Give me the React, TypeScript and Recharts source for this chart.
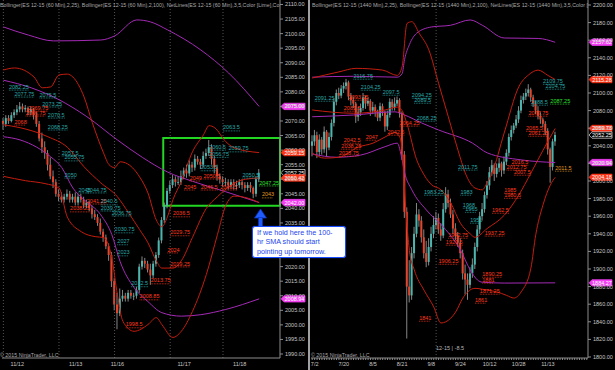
import React from "react";
import {
  Bar,
  ComposedChart,
  Line,
  ReferenceArea,
  ReferenceDot,
  ReferenceLine,
  XAxis,
  YAxis,
} from "recharts";

const FONT = "'Liberation Sans', Arial, sans-serif";
const AXIS = "#8c8c8c";
const TICK_TEXT = "#c8c8c8";
const UP = "#4bb5ae";
const DOWN = "#e2452c";
const WICK = "#a8a8a8";
const RED = "#c41d0f";
const PURPLE = "#a42ab6";
const LIME = "#22d622";

const NOTE_COLORS: Record<string, string> = {
  c: "#2aa8a8",
  r: "#ff3a1e",
  g: "#2ee02e",
  o: "#e39b1f",
};

type Pt = [number, number];
type Note = [number, number, string, string];
type Tag = [number, string];

// ---- left panel: ES 12-15, 60 min ----
const leftOpen = [
  2070, 2069, 2071, 2070, 2072, 2073, 2074, 2075, 2074, 2074.5,
  2073, 2074, 2072, 2069, 2064, 2061, 2059, 2055, 2051, 2049,
  2045, 2044, 2043, 2044, 2045, 2043, 2044, 2042, 2044, 2043,
  2041, 2042, 2040, 2038, 2037, 2035, 2032, 2030, 2027, 2024,
  2015, 2007, 2004, 2009, 2010, 2009, 2011, 2010, 2010, 2012,
  2020, 2022, 2021, 2019, 2017, 2021, 2024, 2029, 2036, 2041,
  2046, 2048, 2050, 2049, 2049, 2051, 2053, 2052, 2055, 2054,
  2057, 2056, 2055, 2058, 2059, 2061, 2057, 2054, 2051, 2050,
  2049, 2049, 2048, 2049, 2048, 2048, 2049, 2048, 2047, 2048,
  2047, 2045, 2050,
];
const leftHigh = [
  2071, 2072, 2072, 2073, 2074, 2075.5, 2076.5, 2076, 2075.5, 2075,
  2075, 2074.5, 2073, 2070, 2066, 2063, 2060, 2057.5, 2053, 2050,
  2046.5, 2045.5, 2045, 2046.5, 2046, 2045, 2045.5, 2045, 2045, 2044,
  2043, 2042.5, 2041, 2039.5, 2038, 2036.5, 2033, 2031, 2028, 2025,
  2016, 2011, 2012.5, 2012, 2011, 2012, 2012, 2011, 2013, 2021,
  2023.5, 2023, 2022, 2021, 2022, 2025, 2030, 2037, 2042, 2047,
  2049.5, 2051.5, 2051, 2051, 2053, 2054, 2055, 2056.5, 2056, 2058.5,
  2058, 2057, 2059.5, 2060.5, 2063.5, 2062, 2058, 2055, 2052, 2051,
  2050.5, 2050, 2050, 2050, 2049.5, 2050, 2050, 2049, 2049, 2049,
  2047.5, 2051, 2053.5,
];
const leftLow = [
  2067, 2068, 2069, 2069.5, 2071, 2072, 2073, 2073, 2073, 2072,
  2072, 2070.5, 2068, 2063, 2059, 2057, 2053, 2050, 2047, 2044,
  2042.5, 2042, 2042, 2043, 2042, 2042, 2041, 2041, 2042, 2040,
  2040, 2039, 2036.5, 2036, 2034, 2031, 2028.5, 2026, 2022, 2013,
  2005, 1998.5, 2003, 2008, 2008, 2008, 2009, 2008.5, 2009, 2011,
  2019, 2019.5, 2018, 2013.75, 2016, 2020, 2023, 2028, 2035, 2040,
  2045, 2047, 2047.5, 2048, 2048, 2050, 2050.5, 2051, 2052.5, 2053,
  2055, 2053.5, 2054, 2057, 2058, 2055, 2052, 2049.5, 2048.5, 2047.5,
  2047.5, 2046.5, 2047, 2046.5, 2046.5, 2047, 2046.5, 2045.5, 2046, 2045.5,
  2043.5, 2044, 2049,
];
const leftClose = [
  2069, 2071, 2070, 2072, 2073, 2074, 2075, 2074, 2074.5, 2073,
  2074, 2072, 2069, 2064, 2061, 2059, 2055, 2051, 2049, 2045,
  2044, 2043, 2044, 2045, 2043, 2044, 2042, 2044, 2043, 2041,
  2042, 2040, 2038, 2037, 2035, 2032, 2030, 2027, 2024, 2015,
  2007, 2004, 2009, 2010, 2009, 2011, 2010, 2010, 2012, 2020,
  2022, 2021, 2019, 2017, 2021, 2024, 2029, 2036, 2041, 2046,
  2048, 2050, 2049, 2049, 2051, 2053, 2052, 2055, 2054, 2057,
  2056, 2055, 2058, 2059, 2061, 2057, 2054, 2051, 2050, 2049,
  2049, 2048, 2049, 2048, 2048, 2049, 2048, 2047, 2048, 2047,
  2045, 2050, 2052.25,
];

const leftBb100Upper: Pt[] = [
  [0, 2102.3], [9, 2099.5], [18, 2097.5], [35, 2097.8], [40, 2099.2], [48, 2104.7],
  [53, 2104], [59, 2101.3], [71, 2094.4], [81, 2086.5], [92, 2075],
];
const leftBb100Mid: Pt[] = [
  [0, 2084], [10, 2081.4], [20, 2077.3], [30, 2071.5], [41, 2063.5], [50, 2057.5],
  [59, 2052.5], [68, 2049.3], [80, 2045.7], [92, 2042],
];
const leftBb100Lower: Pt[] = [
  [0, 2064.6], [6, 2063.5], [12, 2061], [17, 2057.7], [21, 2054], [25, 2047],
  [29, 2043], [35, 2037.8], [39, 2031], [42, 2021.7], [47, 2012.8], [52, 2008],
  [57, 2004.2], [64, 2003], [71, 2003.5], [80, 2005.3], [92, 2008.94],
];
const leftBb25Upper: Pt[] = [
  [0, 2087.5], [4, 2088.2], [11, 2085.1], [14, 2081.4], [17, 2081.7], [20, 2085.8],
  [23, 2086.1], [25, 2085.1], [29, 2078.3], [32, 2069.4], [36, 2059.1], [38, 2055],
  [40, 2054], [42, 2056], [44, 2055.6], [49, 2050.8], [52, 2045.3], [55, 2036],
  [57, 2033.7], [59, 2037.1], [61, 2043], [64, 2049.2], [68, 2059.4], [72, 2065.3],
  [74, 2068.4], [76, 2067.7], [80, 2062.9], [83, 2060.8], [92, 2059.15],
];
const leftBb25Mid: Pt[] = [
  [0, 2068.7], [6, 2067.7], [16, 2064.6], [23, 2061], [29, 2054.3], [35, 2048.8],
  [41, 2044], [45, 2038.5], [49, 2032.7], [52, 2028.2], [55, 2022], [57, 2019.5],
  [61, 2019.5], [64, 2022], [68, 2030], [73, 2040], [77, 2044], [82, 2048],
  [87, 2050], [92, 2050.42],
];
const leftBb25Lower: Pt[] = [
  [0, 2051], [8, 2049.5], [15, 2048.5], [20, 2047], [23, 2037], [28, 2032],
  [33, 2030.3], [36, 2030], [39, 2023], [41, 2010.4], [43, 2001.2], [47, 1997.8],
  [52, 2000.1], [55, 2002.5], [57, 2000.1], [61, 1995.7], [64, 1997.8], [68, 2004.6],
  [73, 2017.3], [77, 2031], [80, 2041], [83, 2044.2], [88, 2043.5], [92, 2042],
];

const leftPriceTicks = [
  1990, 1995, 2000, 2005, 2010, 2015, 2020, 2025, 2030, 2035, 2040, 2045, 2050,
  2055, 2060, 2065, 2070, 2075, 2080, 2085, 2090, 2095, 2100, 2105, 2110,
];
const leftDayTicks = [5, 26, 41, 65, 85];
const leftDayLabels = ["11/12", "11/13", "11/16", "11/17", "11/18"];
const leftSessionBreaks = [0, 20, 40, 60, 79];

const leftTags: Tag[] = [
  [2075.0, "m"], [2059.15, "r"], [2052.25, "k"], [2050.42, "r"], [2042.0, "m"], [2008.94, "m"],
];

const leftNotes: Note[] = [
  [2, 2081.7, "2082.25", "c"], [4, 2079.3, "2077.75", "c"], [13, 2079, "2075.5", "c"],
  [14, 2075.9, "2073.25", "c"], [9, 2074.5, "2069.75", "r"], [8, 2072.8, "2066.75", "r"],
  [4, 2069.7, "2068", "r"], [16, 2072.1, "2070.5", "c"], [16, 2068, "2068.25", "c"],
  [21, 2059.1, "2057.5", "c"], [22, 2057.4, "2055.75", "c"], [22, 2051.5, "2050", "c"],
  [27, 2046.4, "2045", "c"], [30, 2046.4, "2044.75", "c"], [30, 2042.6, "2041.25", "r"],
  [24, 2039.9, "2038.25", "r"], [35, 2042.3, "2040.5", "c"], [35, 2040.2, "2039.75", "c"],
  [39, 2038.5, "2036.75", "c"], [40, 2032.7, "2030.75", "c"], [41, 2028.6, "2027", "c"],
  [41, 2024.8, "2023", "c"], [46, 2014.2, "2012.5", "c"], [49, 2009.7, "2008.85", "r"],
  [44, 2000.1, "1998.5", "r"], [61, 2038.2, "2036.5", "r"], [60, 2031.7, "2029.75", "r"],
  [59, 2025.8, "2024", "r"], [60, 2021, "2019.25", "r"], [53, 2015.2, "2013.75", "r"],
  [79, 2067.7, "2063.5", "c"], [74, 2061.1, "2060.5", "c"], [81, 2060.5, "2059.75", "c"],
  [74, 2058.6, "2056.75", "c"], [71, 2054, "2053.5", "c"], [86, 2051.5, "2050.5", "c"],
  [72, 2051.2, "2050.5", "r"], [67, 2050.5, "2049", "r"], [65, 2047.4, "2045", "r"],
  [71, 2047.4, "2046.5", "r"], [78, 2047.4, "2045.5", "r"], [92, 2048.8, "2047.25", "g"],
  [93, 2044.7, "2043", "o"],
];

// ---- right panel: ES 12-15, daily ----
const rightOpen = [
  2040, 2045, 2052, 2033, 2047, 2036, 2056, 2038, 2050, 2066,
  2090, 2100, 2097, 2105, 2108, 2112, 2096, 2092, 2088, 2073,
  2078, 2083, 2095, 2088, 2091, 2080, 2084, 2078, 2072, 2085,
  2078, 2062, 2075, 2090, 2084, 2088, 2092, 2077, 2030, 1965,
  1880, 1870, 1918, 1940, 1962, 1955, 1936, 1918, 1908, 1925,
  1940, 1950, 1958, 1945, 1938, 1968, 1985, 1975, 1962, 1946,
  1938, 1930, 1918, 1895, 1888, 1882, 1895, 1905, 1925, 1945,
  1960, 1968, 1984, 1995, 2010, 2018, 2008, 2015, 2020, 2012,
  2022, 2032, 2050, 2058, 2063, 2070, 2080, 2092, 2096, 2100,
  2104, 2095, 2088, 2080, 2074, 2070, 2065, 2057, 2036, 2016,
  2045,
];
const rightHigh = [
  2052, 2058, 2056, 2053, 2050, 2062, 2058, 2055, 2070, 2094,
  2104, 2106, 2109, 2112, 2116, 2114, 2100, 2096, 2090, 2084,
  2088, 2100, 2097, 2095, 2093, 2090, 2087, 2081, 2089, 2088,
  2080, 2080, 2094, 2093, 2095, 2096, 2094, 2079, 2034, 1970,
  1910, 1925, 1948, 1975, 1968, 1960, 1945, 1932, 1935, 1948,
  1960, 1965, 1963, 1952, 1975, 1993, 1990, 1980, 1967, 1952,
  1942, 1935, 1922, 1905, 1895, 1902, 1912, 1930, 1950, 1965,
  1975, 1988, 2000, 2016, 2024, 2020, 2020, 2026, 2022, 2028,
  2036, 2054, 2063, 2066, 2075, 2085, 2097, 2100, 2105, 2110,
  2106, 2098, 2091, 2085, 2078, 2072, 2068, 2060, 2038, 2048,
  2056,
];
const rightLow = [
  2028, 2040, 2026, 2028, 2030, 2032, 2028, 2035, 2046, 2062,
  2086, 2093, 2094, 2100, 2104, 2092, 2086, 2083, 2066, 2068,
  2074, 2080, 2082, 2085, 2074, 2076, 2073, 2068, 2068, 2074,
  2056, 2058, 2072, 2080, 2080, 2085, 2072, 2024, 1958, 1821,
  1862, 1865, 1912, 1936, 1948, 1930, 1912, 1902, 1904, 1920,
  1935, 1945, 1940, 1932, 1935, 1964, 1970, 1958, 1940, 1933,
  1925, 1912, 1888, 1871, 1865, 1878, 1890, 1900, 1920, 1940,
  1955, 1964, 1980, 1990, 2006, 2000, 2004, 2010, 2005, 2008,
  2018, 2028, 2046, 2054, 2060, 2066, 2077, 2088, 2092, 2096,
  2090, 2084, 2076, 2070, 2065, 2061, 2052, 2030, 1998, 2012,
  2040,
];
const rightClose = [
  2045, 2052, 2033, 2047, 2036, 2056, 2038, 2050, 2066, 2090,
  2100, 2097, 2105, 2108, 2112, 2096, 2092, 2088, 2073, 2078,
  2083, 2095, 2088, 2091, 2080, 2084, 2078, 2072, 2085, 2078,
  2062, 2075, 2090, 2084, 2088, 2092, 2077, 2030, 1965, 1880,
  1870, 1918, 1940, 1962, 1955, 1936, 1918, 1908, 1925, 1940,
  1950, 1958, 1945, 1938, 1968, 1985, 1975, 1962, 1946, 1938,
  1930, 1918, 1895, 1888, 1882, 1895, 1905, 1925, 1945, 1960,
  1968, 1984, 1995, 2010, 2018, 2008, 2015, 2020, 2012, 2022,
  2032, 2050, 2058, 2063, 2070, 2080, 2092, 2096, 2100, 2104,
  2095, 2088, 2080, 2074, 2070, 2065, 2057, 2036, 2016, 2045,
  2052.25,
];

const rightBb100Upper: Pt[] = [
  [0, 2118], [17, 2119], [35, 2118], [37, 2122], [38, 2138], [40, 2155], [43, 2168],
  [49, 2175], [57, 2177], [65, 2183], [70, 2177], [79, 2162.5], [93, 2162], [100, 2157.62],
];
const rightBb100Mid: Pt[] = [
  [0, 2073], [17, 2075], [34, 2078.6], [38, 2075], [45, 2066], [52, 2058],
  [66, 2043], [72, 2032], [86, 2024], [100, 2020.94],
];
const rightBb100Lower: Pt[] = [
  [0, 2030.7], [10, 2027], [20, 2029.5], [30, 2039], [35, 2043], [37, 2024],
  [38, 2010], [41, 1990], [47, 1967], [54, 1947.7], [61, 1921.6], [65, 1899],
  [68, 1887.5], [70, 1885], [79, 1884], [100, 1884.27],
];
const rightBb25Upper: Pt[] = [
  [0, 2117], [11, 2124], [18, 2128], [29, 2126], [35, 2120], [37, 2130], [39, 2179],
  [41, 2181], [44, 2168], [48, 2149], [52, 2111], [56, 2073], [60, 2035], [63, 2009],
  [67, 1992], [70, 1990], [72, 1998], [74, 2009], [79, 2054.5], [85, 2107],
  [89, 2120.5], [93, 2126], [97, 2120], [100, 2115.28],
];
const rightBb25Mid: Pt[] = [
  [0, 2080.7], [17, 2077], [30, 2080.7], [35, 2084], [37, 2080], [39, 2065],
  [43, 2024], [45, 2012], [49, 1996], [53, 1990], [57, 1975], [61, 1952],
  [65, 1940], [67, 1936], [72, 1946], [79, 1961], [85, 1984], [90, 2009],
  [95, 2035], [100, 2059.73],
];
const rightBb25Lower: Pt[] = [
  [0, 2031.8], [5, 2026], [11, 2027], [19, 2038.6], [25, 2043], [30, 2050],
  [34, 2055], [36, 2050], [37, 2035], [38, 1990], [39, 1950], [40, 1921],
  [42, 1899], [46, 1876], [50, 1857], [53, 1838.6], [55, 1840], [59, 1851],
  [62, 1867], [64, 1874], [67, 1878], [72, 1876], [76, 1874], [80, 1870],
  [83, 1867], [86, 1874], [90, 1901], [92, 1939], [95, 1973], [98, 1995.5],
  [100, 2004.18],
];

const rightPriceTicks = [
  1800, 1820, 1840, 1860, 1880, 1900, 1920, 1940, 1960, 1980, 2000,
  2020, 2040, 2060, 2080, 2100, 2120, 2140, 2160, 2180, 2200,
];
const rightDayTicks = [1, 13, 25, 37, 49, 61, 73, 85, 97];
const rightDayLabels = ["7/2", "7/20", "8/5", "8/21", "9/8", "9/24", "10/12", "10/28", "11/13"];
const rightSessionBreaks = [51];

const rightTags: Tag[] = [
  [2157.62, "m"], [2115.28, "r"], [2059.73, "r"], [2052.25, "k"],
  [2020.94, "m"], [2004.18, "r"], [1884.27, "m"],
];

const rightNotes: Note[] = [
  [17, 2119.3, "2116.75", "c"], [20, 2106.8, "2104.25", "c"], [1, 2094.3, "2091.25", "c"],
  [15, 2095.5, "2093.25", "r"], [13, 2083, "2081.5", "r"], [29, 2101.1, "2097.5", "c"],
  [41, 2097.7, "2094.25", "c"], [42, 2092, "2089.5", "c"], [43, 2071.6, "2068.25", "c"],
  [36, 2066, "2064.25", "r"], [13, 2046.6, "2042.5", "r"], [12, 2039.8, "2038.25", "r"],
  [11, 2031.8, "2028.75", "r"], [22, 2050, "2047", "r"], [31, 2055.7, "2042.5", "r"],
  [95, 2113.6, "2109.75", "c"], [96, 2108, "2104.75", "c"], [90, 2089.8, "2088.5", "c"],
  [98, 2091, "2087.25", "g"], [89, 2077.3, "2077.75", "r"], [88, 2060.2, "2065.5", "r"],
  [89, 2054.5, "2061.25", "r"], [60, 2016, "2011.75", "c"], [82, 2021.6, "2016.5", "r"],
  [80, 2016, "2012.75", "r"], [83, 2010.2, "2007.5", "r"], [100, 2014.8, "2011.5", "o"],
  [46, 1987.5, "1983.25", "c"], [61, 1987.5, "1983", "c"], [62, 1972.7, "1968", "c"],
  [63, 1968, "1965", "c"], [65, 1955.7, "1951", "c"], [79, 1989.8, "1985", "r"],
  [79, 1984, "1980.5", "r"], [74, 1967, "1962.5", "r"], [71, 1941, "1937.25", "r"],
  [56, 1938.6, "1942.75", "r"], [55, 1930.7, "1929.5", "r"], [52, 1909, "1906.25", "r"],
  [70, 1894.3, "1890.25", "r"], [70, 1887.5, "1881", "r"], [69, 1875, "1871.25", "r"],
  [67, 1864.8, "1861", "r"], [44, 1844.3, "1841", "r"],
];

type Band = { key: string; color: string; points: Pt[] };

function buildRows(
  open: number[],
  high: number[],
  low: number[],
  close: number[],
  slots: number,
  bands: Band[],
) {
  const rows: any[] = [];
  for (let i = 0; i < slots; i++) {
    const row: any = { i };
    if (i < close.length) {
      row.open = open[i];
      row.high = high[i];
      row.low = low[i];
      row.close = close[i];
      row.range = [low[i], high[i]];
    }
    rows.push(row);
  }
  bands.forEach((b) => b.points.forEach(([i, v]) => (rows[i][b.key] = v)));
  return rows;
}

function Candle(props: any) {
  const { x, y, width, height, payload } = props;
  if (!payload || payload.high == null || x == null || y == null) return null;
  const top = Math.min(y, y + height);
  const h = Math.abs(height);
  const k = h / (payload.high - payload.low || 1);
  const yo = top + (payload.high - payload.open) * k;
  const yc = top + (payload.high - payload.close) * k;
  const cx = x + width / 2;
  const up = payload.close >= payload.open;
  return (
    <g>
      <line x1={cx} x2={cx} y1={top} y2={top + h} stroke={WICK} strokeWidth={0.8} />
      <rect
        x={x}
        y={Math.min(yo, yc)}
        width={width}
        height={Math.max(Math.abs(yc - yo), 0.8)}
        fill={up ? UP : DOWN}
      />
    </g>
  );
}

function noteShape(text: string, color: string) {
  return (p: any) => (
    <g>
      <text x={p.cx} y={p.cy + 1.8} fontSize={5.5} fontFamily={FONT} fill={color}>
        {text}
      </text>
      <line
        x1={p.cx}
        x2={p.cx + text.length * 2.8}
        y1={p.cy + 3.2}
        y2={p.cy + 3.2}
        stroke={color}
        strokeWidth={0.8}
        strokeDasharray="0.8 0.8"
      />
    </g>
  );
}

function tagLabel(price: number, kind: string, tagWidth: number) {
  const fill = kind === "m" ? "#f23ef2" : kind === "r" ? "#ff3416" : "#000";
  const border = kind === "k" ? "#e8e8e8" : fill;
  return (props: any) => {
    const vb = props.viewBox || {};
    const x = (vb.x ?? 0) + (vb.width ?? 0) + 1;
    const y = vb.y ?? 0;
    return (
      <g>
        <polygon
          points={`${x},${y} ${x + 3},${y - 3.2} ${x + tagWidth},${y - 3.2} ${x + tagWidth},${y + 3.2} ${x + 3},${y + 3.2}`}
          fill={fill}
          stroke={border}
          strokeWidth={0.7}
        />
        <text
          x={x + 3 + (tagWidth - 3) / 2}
          y={y + 2}
          textAnchor="middle"
          fontSize={5.5}
          fontFamily={FONT}
          fill="#fff"
        >
          {price.toFixed(2)}
        </text>
      </g>
    );
  };
}

type PanelProps = {
  width: number;
  slots: number;
  marginLeft: number;
  yWidth: number;
  open: number[];
  high: number[];
  low: number[];
  close: number[];
  bands: Band[];
  yDomain: [number, number];
  yTicks: number[];
  xTicks: number[];
  xLabels: string[];
  minorTicks: boolean;
  breaks: number[];
  notes: Note[];
  tags: Tag[];
  tagWidth: number;
  box?: { x1: number; x2: number; y1: number; y2: number };
};

function Panel(p: PanelProps) {
  const rows = buildRows(p.open, p.high, p.low, p.close, p.slots, p.bands);
  const labelOf = (v: number) => {
    const k = p.xTicks.indexOf(v);
    return k >= 0 ? p.xLabels[k] : "";
  };
  return (
    <ComposedChart
      width={p.width}
      height={370}
      data={rows}
      margin={{ top: 0, right: 0, bottom: 0, left: p.marginLeft }}
      barCategoryGap={0}
    >
      <XAxis
        dataKey="i"
        type="category"
        ticks={p.minorTicks ? rows.map((r) => r.i) : p.xTicks}
        interval={0}
        tickFormatter={labelOf}
        height={12}
        axisLine={{ stroke: AXIS }}
        tickLine={p.minorTicks ? { stroke: AXIS } : false}
        tickSize={p.minorTicks ? 2 : 3}
        tickMargin={p.minorTicks ? 2 : 1}
        tick={{ fill: TICK_TEXT, fontSize: 5.5, fontFamily: FONT }}
      />
      <YAxis
        orientation="right"
        type="number"
        domain={p.yDomain}
        allowDataOverflow
        ticks={p.yTicks}
        interval={0}
        width={p.yWidth}
        tickFormatter={(v: number) => v.toFixed(2)}
        axisLine={{ stroke: AXIS }}
        tickLine={{ stroke: AXIS }}
        tickSize={3}
        tickMargin={2}
        tick={{ fill: TICK_TEXT, fontSize: 5.5, fontFamily: FONT }}
      />
      {p.breaks.map((b) => (
        <ReferenceLine key={`br${b}`} x={b} stroke="#6a6a6a" strokeWidth={0.8} strokeDasharray="1 2" />
      ))}
      <Bar dataKey="range" barSize={2} shape={Candle} isAnimationActive={false} />
      {p.bands.map((b) => (
        <Line
          key={b.key}
          dataKey={b.key}
          type="monotone"
          stroke={b.color}
          strokeWidth={1}
          dot={false}
          activeDot={false}
          connectNulls
          isAnimationActive={false}
        />
      ))}
      {p.box && (
        <ReferenceArea
          x1={p.box.x1}
          x2={p.box.x2}
          y1={p.box.y1}
          y2={p.box.y2}
          fill="none"
          stroke={LIME}
          strokeWidth={2}
          ifOverflow="visible"
        />
      )}
      {p.notes.map(([slot, price, text, c], k) => (
        <ReferenceDot
          key={`n${k}`}
          x={slot}
          y={price}
          r={0}
          ifOverflow="visible"
          shape={noteShape(text, NOTE_COLORS[c])}
        />
      ))}
      {p.tags.map(([price, kind]) => (
        <ReferenceLine
          key={`t${price}`}
          y={price}
          stroke="none"
          ifOverflow="visible"
          label={tagLabel(price, kind, p.tagWidth)}
        />
      ))}
    </ComposedChart>
  );
}

const overlayText: React.CSSProperties = {
  position: "absolute",
  fontFamily: FONT,
  fontSize: 5.3,
  color: "#a8a8a8",
  whiteSpace: "nowrap",
  lineHeight: "7px",
};

export default function App() {
  return (
    <div
      style={{
        position: "fixed",
        left: 0,
        top: 0,
        width: 615,
        height: 370,
        background: "#000",
        overflow: "hidden",
      }}
    >
      <div style={{ position: "absolute", left: 0, top: 0 }}>
        <Panel
          width={310}
          slots={100}
          marginLeft={2}
          yWidth={30}
          open={leftOpen}
          high={leftHigh}
          low={leftLow}
          close={leftClose}
          bands={[
            { key: "bb100Upper", color: PURPLE, points: leftBb100Upper },
            { key: "bb100Mid", color: PURPLE, points: leftBb100Mid },
            { key: "bb100Lower", color: PURPLE, points: leftBb100Lower },
            { key: "bb25Upper", color: RED, points: leftBb25Upper },
            { key: "bb25Mid", color: RED, points: leftBb25Mid },
            { key: "bb25Lower", color: RED, points: leftBb25Lower },
          ]}
          yDomain={[1988.63, 2111.54]}
          yTicks={leftPriceTicks}
          xTicks={leftDayTicks}
          xLabels={leftDayLabels}
          minorTicks={false}
          breaks={leftSessionBreaks}
          notes={leftNotes}
          tags={leftTags}
          tagWidth={24}
          box={{ x1: 58, x2: 99, y1: 2040.9, y2: 2064.2 }}
        />
      </div>
      <div style={{ position: "absolute", left: 311, top: 0 }}>
        <Panel
          width={304}
          slots={114}
          marginLeft={0}
          yWidth={27}
          open={rightOpen}
          high={rightHigh}
          low={rightLow}
          close={rightClose}
          bands={[
            { key: "bb100Upper", color: PURPLE, points: rightBb100Upper },
            { key: "bb100Mid", color: PURPLE, points: rightBb100Mid },
            { key: "bb100Lower", color: PURPLE, points: rightBb100Lower },
            { key: "bb25Upper", color: RED, points: rightBb25Upper },
            { key: "bb25Mid", color: RED, points: rightBb25Mid },
            { key: "bb25Lower", color: RED, points: rightBb25Lower },
          ]}
          yDomain={[1798.86, 2205.68]}
          yTicks={rightPriceTicks}
          xTicks={rightDayTicks}
          xLabels={rightDayLabels}
          minorTicks={true}
          breaks={rightSessionBreaks}
          notes={rightNotes}
          tags={rightTags}
          tagWidth={23}
        />
      </div>

      {/* panel divider */}
      <div style={{ position: "absolute", left: 308, top: 0, width: 2, height: 370, background: "#a0a0a0" }} />

      <div style={{ ...overlayText, left: 0, top: 2 }}>
        Bollinger(ES 12-15 (60 Min),2,25), Bollinger(ES 12-15 (60 Min),2,100), NetLines(ES 12-15 (60 Min),3,5,Color [Lime],Co
      </div>
      <div style={{ ...overlayText, left: 312, top: 2 }}>
        Bollinger(ES 12-15 (1440 Min),2,25), Bollinger(ES 12-15 (1440 Min),2,100), NetLines(ES 12-15 (1440 Min),3,5,Color [
      </div>
      <div style={{ ...overlayText, left: 0, top: 352 }}>© 2015 NinjaTrader, LLC</div>
      <div style={{ ...overlayText, left: 311, top: 352 }}>© 2015 NinjaTrader, LLC</div>
      <div style={{ ...overlayText, left: 436, top: 345, fontSize: 5.5, color: "#b8b8b8" }}>12-15 | -8.5</div>

      {/* annotation arrow + callout */}
      <svg style={{ position: "absolute", left: 0, top: 0 }} width={615} height={370}>
        <polygon points="260.5,209 254.5,218 266.5,218" fill="#1e5cff" stroke="#0c35b8" strokeWidth={0.8} />
        <rect x={258.5} y={217.5} width={4} height={10} fill="#1e5cff" stroke="#0c35b8" strokeWidth={0.6} />
      </svg>
      <div
        style={{
          position: "absolute",
          left: 252,
          top: 226,
          width: 88,
          height: 29,
          background: "#fff",
          border: "1.5px solid #1a4cff",
          borderRadius: 3,
          boxShadow: "0 0 1px #1a4cff",
          fontFamily: FONT,
          fontSize: 7.2,
          lineHeight: "9.5px",
          color: "#2244ee",
          paddingLeft: 4,
          paddingTop: 0.5,
          whiteSpace: "nowrap",
        }}
      >
        If we hold here the 100-
        <br />
        hr SMA should start
        <br />
        pointing up tomorrow.
      </div>
    </div>
  );
}
